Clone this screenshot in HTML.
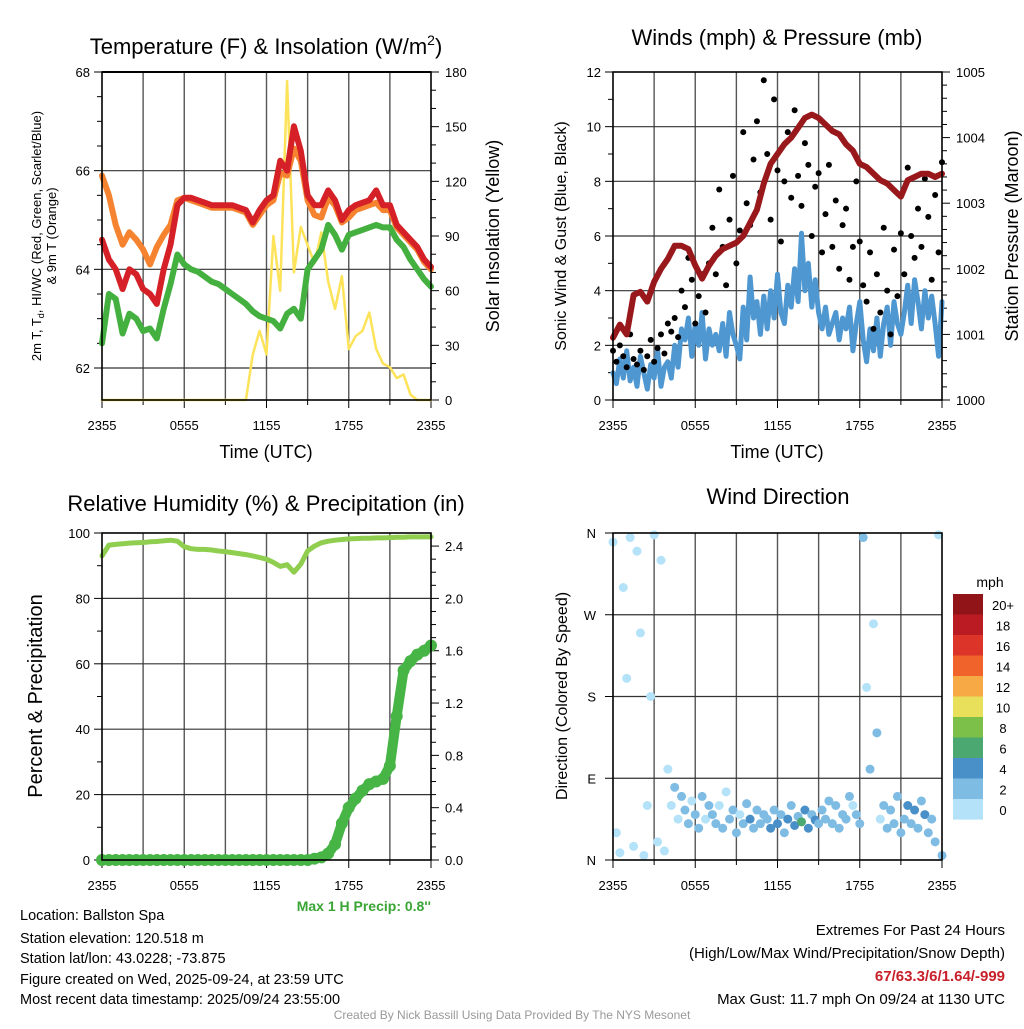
<!DOCTYPE html>
<html><head><meta charset="utf-8"><style>
body{margin:0;background:#fff;}
svg text{font-family:"Liberation Sans",sans-serif;}
</style></head><body>
<svg id="s" width="1024" height="1024" viewBox="0 0 1024 1024" xmlns="http://www.w3.org/2000/svg">
<g>
<text x="266" y="54" font-size="22" text-anchor="middle">Temperature (F) &amp; Insolation (W/m<tspan dy="-9" font-size="14">2</tspan><tspan dy="9">)</tspan></text>
<text x="266" y="458" font-size="18" text-anchor="middle">Time (UTC)</text>
<text transform="translate(41,236) rotate(-90)" font-size="13" text-anchor="middle">2m T, T<tspan font-size="9" dy="3">d</tspan><tspan dy="-3">, HI/WC (Red, Green, Scarlet/Blue)</tspan></text>
<text transform="translate(56,236) rotate(-90)" font-size="13" text-anchor="middle">&amp; 9m T (Orange)</text>
<text transform="translate(499,236) rotate(-90)" font-size="18" text-anchor="middle">Solar Insolation (Yellow)</text>
</g>
<g>
<text x="777" y="45" font-size="22" text-anchor="middle">Winds (mph) &amp; Pressure (mb)</text>
<text x="777" y="458" font-size="18" text-anchor="middle">Time (UTC)</text>
<text transform="translate(566,236) rotate(-90)" font-size="16" text-anchor="middle">Sonic Wind &amp; Gust (Blue, Black)</text>
<text transform="translate(1018,236) rotate(-90)" font-size="18" text-anchor="middle">Station Pressure (Maroon)</text>
</g>
<g>
<text x="266" y="511" font-size="22" text-anchor="middle">Relative Humidity (%) &amp; Precipitation (in)</text>
<text transform="translate(42,696) rotate(-90)" font-size="20" text-anchor="middle">Percent &amp; Precipitation</text>
<text x="431" y="911" font-size="14" font-weight="bold" fill="#3aa535" text-anchor="end">Max 1 H Precip: 0.8''</text>
</g>
<g>
<text x="778" y="504" font-size="22" text-anchor="middle">Wind Direction</text>
<text transform="translate(567,696) rotate(-90)" font-size="16" text-anchor="middle">Direction (Colored By Speed)</text>
<text x="990" y="587" font-size="14" text-anchor="middle">mph</text>
</g>
<g font-size="14.5">
<text x="20" y="920">Location: Ballston Spa</text>
<text x="20" y="943">Station elevation: 120.518 m</text>
<text x="20" y="963">Station lat/lon: 43.0228; -73.875</text>
<text x="20" y="984">Figure created on Wed, 2025-09-24, at 23:59 UTC</text>
<text x="20" y="1004">Most recent data timestamp: 2025/09/24 23:55:00</text>
</g>
<g font-size="15" text-anchor="end">
<text x="1005" y="935">Extremes For Past 24 Hours</text>
<text x="1005" y="958">(High/Low/Max Wind/Precipitation/Snow Depth)</text>
<text x="1005" y="981" font-weight="bold" fill="#c8202a">67/63.3/6/1.64/-999</text>
<text x="1005" y="1004">Max Gust: 11.7 mph On 09/24 at 1130 UTC</text>
</g>
<text x="512" y="1019" font-size="12" fill="#999" text-anchor="middle">Created By Nick Bassill Using Data Provided By The NYS Mesonet</text>
</svg>
<script>
const hh=[];for(let i=0;i<=48;i++)hh.push(i/2);
const qh=[];for(let i=0;i<=96;i++)qh.push(i/4);
const xTickLabels=["2355","0555","1155","1755","2355"];
const tempTicks=[62,64,66,68];
const solarTicks=[0,30,60,90,120,150,180];
const windTicks=[0,2,4,6,8,10,12];
const presTicks=[1000,1001,1002,1003,1004,1005];
const rhTicks=[0,20,40,60,80,100];
const precipTicks=[0.0,0.4,0.8,1.2,1.6,2.0,2.4];
const dirLabels=["N","E","S","W","N"];
const cbLabels=["20+","18","16","14","12","10","8","6","4","2","0"];
const cbColors=["#911518","#bb1c24","#dc3428","#f0632a","#f6a945","#e8e05a","#7cc04a","#4aa870","#4a90c8","#7fbce4","#b3e2f9"];
const tRed=[64.6,64.2,64.0,63.6,64.0,63.9,63.6,63.5,63.3,64.0,64.5,65.3,65.45,65.45,65.4,65.35,65.3,65.3,65.3,65.3,65.25,65.2,64.95,65.2,65.4,65.5,66.2,66.0,66.9,66.4,65.5,65.3,65.3,65.6,65.4,65.0,65.2,65.3,65.35,65.4,65.6,65.3,65.3,64.9,64.75,64.6,64.45,64.2,64.05];
const tOrange=[65.9,65.5,64.9,64.5,64.75,64.6,64.4,64.1,64.45,64.7,64.9,65.4,65.45,65.4,65.35,65.3,65.25,65.25,65.25,65.25,65.2,65.15,64.9,65.1,65.3,65.4,65.95,65.9,66.45,66.2,65.4,65.1,65.05,65.45,65.3,64.95,65.05,65.2,65.25,65.3,65.35,65.2,65.2,64.85,64.7,64.55,64.4,64.15,64.0];
const tDew=[62.5,63.5,63.4,62.7,63.1,63.0,62.75,62.8,62.6,63.2,63.7,64.3,64.1,64.0,63.95,63.85,63.75,63.7,63.6,63.5,63.4,63.3,63.15,63.05,63.0,62.95,62.8,63.1,63.2,63.0,64.0,64.2,64.4,64.9,64.7,64.4,64.7,64.75,64.8,64.85,64.9,64.85,64.85,64.6,64.45,64.2,64.0,63.8,63.65];
const solar=[0,0,0,0,0,0,0,0,0,0,0,0,0,0,0,0,0,0,0,0,0,0,25,38,25,90,60,175,70,95,85,75,92,65,50,68,28,35,38,48,28,20,18,12,14,3,0,0,0];
const pressure=[1000.95,1001.15,1001.0,1001.6,1001.65,1001.5,1001.8,1002.0,1002.15,1002.35,1002.35,1002.3,1002.05,1001.85,1002.05,1002.2,1002.3,1002.35,1002.4,1002.5,1002.7,1002.9,1003.3,1003.6,1003.75,1003.9,1004.0,1004.15,1004.3,1004.35,1004.3,1004.2,1004.1,1004.05,1003.9,1003.8,1003.6,1003.55,1003.45,1003.35,1003.3,1003.2,1003.1,1003.35,1003.4,1003.45,1003.45,1003.4,1003.45];
const wind=[1.0,0.6,1.5,0.8,1.8,0.7,1.2,0.5,1.6,1.0,0.4,1.3,0.8,1.8,0.5,1.2,1.4,0.8,2.0,1.2,2.6,2.2,3.0,1.6,2.8,2.0,3.2,1.5,2.6,2.0,2.4,1.8,2.8,1.6,3.2,2.4,2.0,1.5,3.4,2.2,4.5,3.0,3.6,2.4,3.8,2.6,4.0,3.0,4.6,3.2,2.8,4.2,3.4,4.8,3.6,6.1,4.0,5.0,3.4,4.4,3.2,2.6,3.4,2.4,2.8,3.2,2.2,3.0,2.6,3.4,1.8,2.8,3.6,2.2,1.4,2.6,1.8,3.0,1.6,2.8,3.4,2.0,3.6,2.8,2.4,3.2,4.2,2.8,4.4,3.6,2.6,4.0,3.0,3.8,2.8,1.6,3.6];
const gust=[1.8,1.4,2.0,1.6,1.2,2.4,1.5,1.3,1.8,1.1,1.6,2.2,1.4,1.9,2.4,1.7,2.8,2.5,3.0,2.3,4.0,3.4,5.2,4.4,2.8,3.8,4.6,3.2,5.0,6.3,4.6,7.7,5.6,4.2,6.6,8.2,5.0,6.2,9.8,7.2,6.4,8.8,10.2,7.6,11.7,9.0,6.6,11.0,8.4,5.8,8.0,9.8,7.4,10.6,8.2,7.1,9.4,8.6,6.0,7.8,8.3,5.4,6.8,8.6,5.6,7.3,4.8,6.4,7.0,4.4,5.6,8.0,5.8,4.2,3.6,5.4,2.6,4.6,3.2,6.3,4.0,2.4,5.5,3.8,6.1,4.6,8.5,6.0,5.2,7.0,5.6,8.1,6.7,4.4,7.5,5.4,8.7];
const direction=[350,30,8,300,200,355,15,340,250,5,60,180,358,20,330,10,100,60,80,45,70,55,40,65,50,35,70,45,60,50,40,60,35,75,45,55,30,50,40,62,45,35,55,40,50,45,35,55,40,50,30,45,60,38,48,42,55,35,50,44,40,55,45,65,40,60,35,50,45,70,60,50,40,355,190,100,260,140,45,60,35,55,40,70,30,45,60,40,55,35,65,50,30,45,20,358,5];
const rh=[93,96.3,96.5,96.7,96.9,97,97.1,97.3,97.4,97.6,97.8,97.5,95.8,95.2,95.0,95.0,94.8,94.5,94.3,94.0,93.7,93.4,93.0,92.5,92.0,91.0,89.8,90.3,88.0,90.5,94.5,96.0,97.0,97.5,97.8,98.0,98.2,98.3,98.4,98.4,98.5,98.5,98.6,98.7,98.7,98.8,98.8,98.8,98.8];
const precip=[0,0,0,0,0,0,0,0,0,0,0,0,0,0,0,0,0,0,0,0,0,0,0,0,0,0,0,0,0,0,0,0.01,0.02,0.05,0.12,0.28,0.4,0.47,0.53,0.58,0.6,0.62,0.72,1.1,1.45,1.52,1.57,1.6,1.64];

const S=document.getElementById('s');const NS='http://www.w3.org/2000/svg';
function mk(tag,attrs,parent){const e=document.createElementNS(NS,tag);for(const k in attrs)e.setAttribute(k,attrs[k]);(parent||S).appendChild(e);return e;}
function lin(d0,d1,r0,r1){return v=>r0+(v-d0)/(d1-d0)*(r1-r0);}
function panel(L,R,T,B,name){
  const g=mk('g',{});
  
  
  return g;}
function frame(g,L,R,T,B,hLines){
  const x=lin(0,24,L,R);
  for(let h=3;h<24;h+=3){const l=mk('line',{x1:x(h),x2:x(h),y1:T,y2:B,stroke:'#555','stroke-width':1.4},g);
    
    }
  hLines.forEach(y=>{const l=mk('line',{x1:L,x2:R,y1:y,y2:y,stroke:'#333','stroke-width':1.2},g);
    
    });
  for(let h=0;h<=24;h+=3){mk('line',{x1:x(h),x2:x(h),y1:B,y2:B+(h%6==0?8:5),stroke:'#000','stroke-width':1},g);}
  xTickLabels.forEach((t,i)=>{const e=mk('text',{x:x(i*6),y:B+30,'font-size':13,'text-anchor':'middle'},g);e.textContent=t;
    
    });
  return x;}
function border(g,L,R,T,B){const r=mk('rect',{x:L,y:T,width:R-L,height:B-T,fill:'none',stroke:'#000','stroke-width':1.6},g);
  
  }
function leftTicks(g,L,ticks,y,fmt){ticks.forEach(v=>{mk('line',{x1:L-8,x2:L,y1:y(v),y2:y(v),stroke:'#000'},g);
  const e=mk('text',{x:L-12,y:y(v)+5,'font-size':13,'text-anchor':'end'},g);e.textContent=fmt?fmt(v):v;
  
  });}
function rightTicks(g,R,ticks,y,minor,fmt){ticks.forEach(v=>{mk('line',{x1:R,x2:R+8,y1:y(v),y2:y(v),stroke:'#000'},g);
  const e=mk('text',{x:R+14,y:y(v)+5,'font-size':13},g);e.textContent=fmt?fmt(v):v;
  
  });
  minor.forEach(v=>mk('line',{x1:R,x2:R+5,y1:y(v),y2:y(v),stroke:'#000'},g));}
function path(g,xs,ys,x,y,color,w,name){let d='';xs.forEach((h,i)=>{d+=(i?'L':'M')+x(h).toFixed(1)+','+y(ys[i]).toFixed(1);});
  const p=mk('path',{d:d,fill:'none',stroke:color,'stroke-width':w,'stroke-linejoin':'round','stroke-linecap':'round'},g);
  
  return p;}

// Panel 1
{const L=102,R=431,T=72,B=400;const g=panel(L,R,T,B,'temperature-plot');
 const yT=lin(62,68,368,72),yS=lin(0,180,B,T);
 const x=frame(g,L,R,T,B,[yT(64),yT(66),yT(62)]);
 const mt=[];for(let v=62.5;v<68;v+=0.5)if(v%2)mt.push(v);
 leftTicks(g,L,tempTicks,yT);mt.forEach(v=>mk('line',{x1:L-5,x2:L,y1:yT(v),y2:yT(v),stroke:'#000'},g));
 const ms=[];for(let v=10;v<=180;v+=10)if(v%30)ms.push(v);
 rightTicks(g,R,solarTicks,yS,ms);
 path(g,hh,solar,x,yS,'#fde35a',2.5,'solar-line');
 path(g,hh,tOrange,x,yT,'#f5832f',6,'temp-9m-line');
 path(g,hh,tRed,x,yT,'#d42026',6,'temp-2m-line');
 path(g,hh,tDew,x,yT,'#44b03f',6,'dewpoint-line');
 mk('line',{x1:L,x2:R,y1:T,y2:T,stroke:'#000','stroke-width':2},g);
 border(g,L,R,T,B);}
// Panel 2
{const L=613,R=942,T=72,B=400;const g=panel(L,R,T,B,'winds-plot');
 const yW=lin(0,12,B,T),yP=lin(1000,1005,B,T);
 const x=frame(g,L,R,T,B,[2,4,6,8,10].map(yW));
 leftTicks(g,L,windTicks,yW);[1,3,5,7,9,11].forEach(v=>mk('line',{x1:L-5,x2:L,y1:yW(v),y2:yW(v),stroke:'#000'},g));
 const mp=[];for(let i=1;i<25;i++)if(i%5)mp.push(1000+i/5);
 rightTicks(g,R,presTicks,yP,mp);
 path(g,qh,wind,x,yW,'#4f97d1',5,'sonic-wind-line');
 gust.forEach((v,i)=>{const c=mk('circle',{cx:x(qh[i]),cy:yW(v),r:3,fill:'#000'},g);
   
   });
 path(g,hh,pressure,x,yP,'#98181b',6,'pressure-line');
 border(g,L,R,T,B);}
// Panel 3
{const L=102,R=431,T=533,B=860;const g=panel(L,R,T,B,'humidity-plot');
 const yR=lin(0,100,B,T),yPr=lin(0,2.5,B,T);
 const x=frame(g,L,R,T,B,[20,40,60,80].map(yR));
 leftTicks(g,L,rhTicks,yR);[10,30,50,70,90].forEach(v=>mk('line',{x1:L-5,x2:L,y1:yR(v),y2:yR(v),stroke:'#000'},g));
 const mp=[];for(let i=1;i<25;i++)if(i%4)mp.push(i/10);
 rightTicks(g,R,precipTicks,yPr,mp,v=>v.toFixed(1));
 path(g,hh,rh,x,yR,'#8fce4f',5,'rh-line');
 path(g,hh,precip,x,yPr,'#47b446',10,'precip-line');
 precip.forEach((v,i)=>{const c=mk('circle',{cx:x(hh[i]),cy:yPr(v),r:6,fill:'#47b446'},g);
   
   });
 border(g,L,R,T,B);}
// Panel 4
{const L=613,R=942,T=533,B=860;const g=panel(L,R,T,B,'direction-plot');
 const yD=lin(0,360,B,T);
 const x=frame(g,L,R,T,B,[90,180,270].map(yD));
 dirLabels.forEach((t,i)=>{const y=yD(i*90);mk('line',{x1:L-8,x2:L,y1:y,y2:y,stroke:'#000'},g);
   const e=mk('text',{x:L-17,y:y+5,'font-size':13,'text-anchor':'end'},g);e.textContent=t;
   
   });
 direction.forEach((d,i)=>{const sp=wind[i];const k=Math.min(10,Math.floor(sp/2));
   const c=mk('circle',{cx:x(qh[i]),cy:yD(d),r:4.5,fill:cbColors[10-k]},g);
   
   });
 border(g,L,R,T,B);
 cbColors.forEach((c,i)=>{const r=mk('rect',{x:953,y:594+i*20.5,width:30,height:20.6,fill:c},g);
   
   
   const e=mk('text',{x:1003,y:594+i*20.5+16,'font-size':13,'text-anchor':'middle'},g);e.textContent=cbLabels[i];
   
   });}
</script>
</body></html>
